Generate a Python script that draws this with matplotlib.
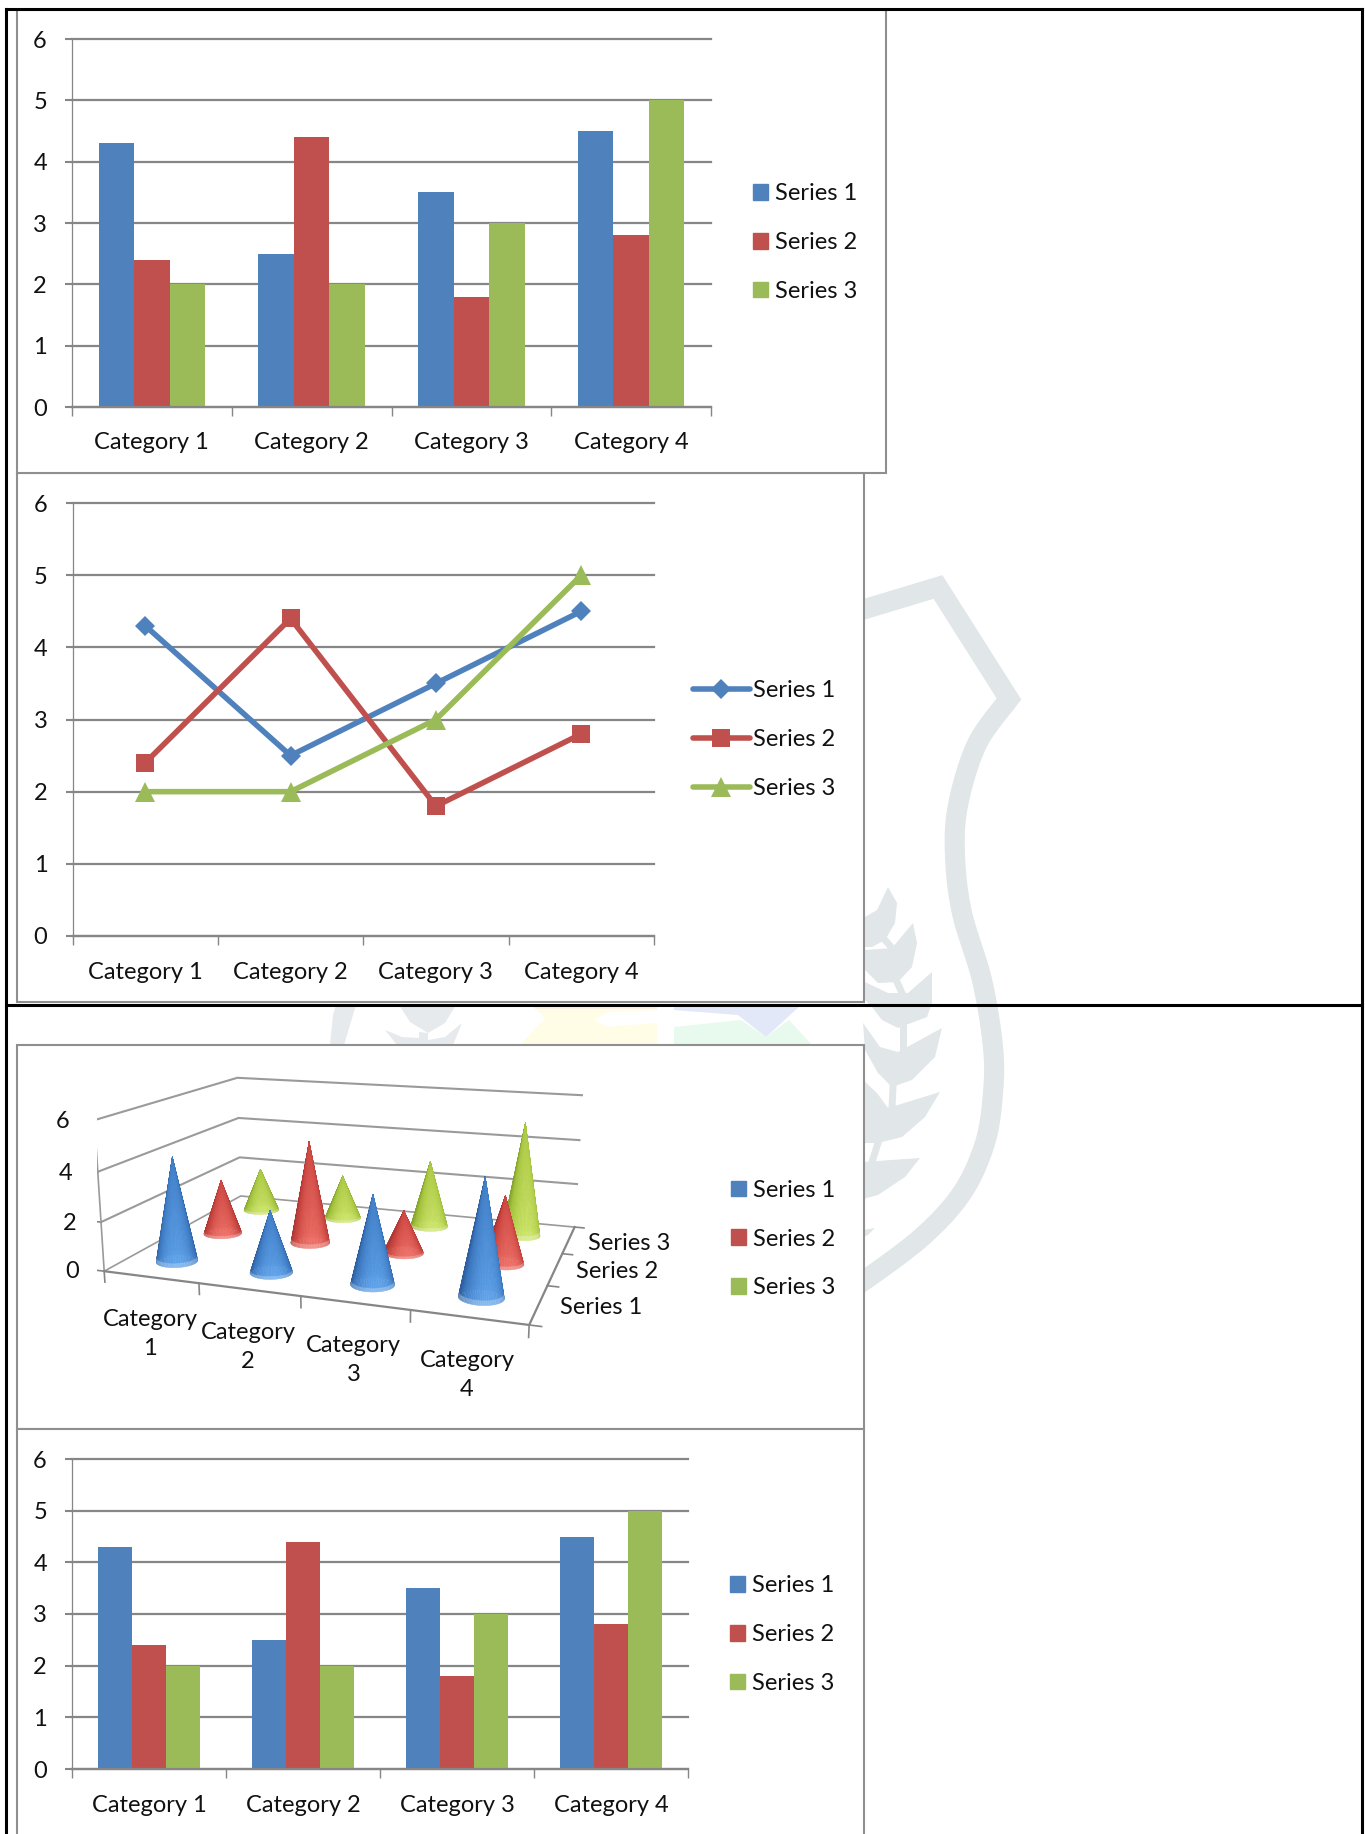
import numpy as np
import matplotlib
matplotlib.use('Agg')
import matplotlib.pyplot as plt
from matplotlib.patches import Rectangle, Patch, Polygon

plt.rcParams['font.family'] = ['Lato', 'DejaVu Sans']

W, H = 1365, 1834
FONT = 17
GRID = '#868686'
TEXT = '#111111'

categories = ['Category 1', 'Category 2', 'Category 3', 'Category 4']
cone_categories = ['Category\n1', 'Category\n2', 'Category\n3', 'Category\n4']
series_names = ['Series 1', 'Series 2', 'Series 3']
series_1 = [4.3, 2.5, 3.5, 4.5]
series_2 = [2.4, 4.4, 1.8, 2.8]
series_3 = [2, 2, 3, 5]
all_series = [series_1, series_2, series_3]
colors = ['#4F81BD', '#C0504D', '#9BBB59']
y_ticks = [0, 1, 2, 3, 4, 5, 6]
cone_ticks = [0, 2, 4, 6]


def px_rect(l, t, r, b):
    return [l / W, 1 - b / H, (r - l) / W, (b - t) / H]


def smooth(points, n=12):
    # Catmull-Rom through the given points
    p = np.array(points, float)
    p = np.vstack([p[0], p, p[-1]])
    out = []
    for i in range(1, len(p) - 2):
        for t in np.linspace(0, 1, n, endpoint=False):
            out.append(0.5 * (2 * p[i] + (p[i + 1] - p[i - 1]) * t
                              + (2 * p[i - 1] - 5 * p[i] + 4 * p[i + 1] - p[i + 2]) * t ** 2
                              + (3 * p[i] - p[i - 1] - 3 * p[i + 1] + p[i + 2]) * t ** 3))
    out.append(p[-2])
    return np.array(out)


fig = plt.figure(figsize=(W / 100, H / 100), dpi=100, facecolor='white')

# page layer: faint crest behind the charts, table rules and chart frames
page = fig.add_axes([0, 0, 1, 1], zorder=0)
page.set_xlim(0, W)
page.set_ylim(H, 0)
page.axis('off')

CREST = '#e1e6e9'
shield = np.vstack([[(850, 613), (865, 609), (938, 587)],
                    smooth([(1009, 699), (977, 744), (958, 805), (955, 856), (962, 913), (982, 980),
                            (993, 1047), (993, 1093), (985, 1143), (962, 1193), (922, 1237),
                            (865, 1280), (845, 1292)])])
page.plot(shield[:, 0], shield[:, 1], color=CREST, lw=14.5, solid_joinstyle='miter', zorder=1)

# leaves, listed from the top of the sprig down
leaves = [
    [(865, 917), (877, 910), (888, 887), (897, 903), (895, 923), (885, 940), (872, 947), (865, 947)],
    [(865, 950), (892, 948), (913, 923), (917, 943), (912, 967), (898, 982), (878, 983), (865, 970)],
    [(865, 982), (888, 993), (908, 993), (932, 972), (932, 1003), (927, 1017), (898, 1028), (882, 1020), (872, 1007), (865, 1000)],
    [(863, 1023), (880, 1047), (898, 1052), (942, 1028), (935, 1057), (912, 1080), (892, 1087), (878, 1073), (865, 1050)],
    [(863, 1080), (877, 1093), (888, 1108), (940, 1092), (925, 1117), (902, 1137), (878, 1143), (863, 1143)],
    [(863, 1162), (920, 1158), (905, 1177), (878, 1195), (863, 1199)],
    [(863, 1230), (875, 1228), (868, 1235), (863, 1237)],
]
for leaf in leaves:
    page.add_patch(Polygon(leaf, closed=True, color=CREST, lw=0, zorder=1))
for stem in [[(885, 940), (892, 948)], [(897, 982), (902, 993)], [(903, 1028), (903, 1052)],
             [(893, 1087), (892, 1108)], [(878, 1143), (872, 1162)]]:
    page.plot(*zip(*stem), color=CREST, lw=5, zorder=1)

strip = [
    ('#e6eaec', [(356, 1005), (350, 1025), (344, 1045), (330, 1045), (333, 1015), (336, 1005)]),
    ('#e6eaec', [(399, 1005), (410, 1022), (428, 1033), (445, 1023), (456, 1005)]),
    ('#e6eaec', [(385, 1030), (402, 1037), (419, 1038), (419, 1032), (428, 1033), (428, 1040), (445, 1037),
                 (462, 1023), (453, 1045), (397, 1045)]),
    ('#fffde6', [(531, 1005), (657, 1005), (657, 1010), (608, 1012), (594, 1020), (608, 1027), (657, 1023),
                 (657, 1045), (520, 1045), (545, 1018)]),
    ('#fdf1e6', [(531, 1005), (657, 1005), (657, 1009), (536, 1009)]),
    ('#e8f9ee', [(674, 1045), (674, 1027), (741, 1020), (766, 1037), (789, 1020), (812, 1045)]),
    ('#e3e8f8', [(674, 1005), (801, 1005), (766, 1037), (738, 1015), (674, 1010)]),
]
for shade, outline in strip:
    page.add_patch(Polygon(outline, closed=True, color=shade, lw=0, zorder=1))

for l, t, r, b in [(17, 473, 864, 1002), (17, 10, 886, 473), (17, 1045, 864, 1429), (17, 1429, 864, 1845)]:
    page.add_patch(Rectangle((l, t), r - l, b - t, facecolor='white', edgecolor='#8f8f8f', lw=1.5, zorder=2))

for xs, ys in [((6, 1362), (9, 9)), ((6, 6), (9, H)), ((1362, 1362), (9, H)), ((6, 1362), (1004.5, 1004.5))]:
    page.plot(xs, ys, color='black', lw=2.2, solid_capstyle='projecting', zorder=3)


def style_axes(ax, pad):
    ax.set_xlim(0, 4)
    ax.set_ylim(0, 6)
    ax.patch.set_alpha(0)
    for side in ['top', 'right']:
        ax.spines[side].set_visible(False)
    ax.spines['left'].set_color(GRID)
    ax.spines['left'].set_linewidth(0.9)
    ax.spines['bottom'].set_color(GRID)
    ax.spines['bottom'].set_linewidth(1.6)
    ax.spines['bottom'].set_zorder(2.5)
    ax.set_yticks(y_ticks)
    ax.set_xticks(range(5))
    ax.set_xticklabels([])
    ax.set_xticks([0.5, 1.5, 2.5, 3.5], minor=True)
    ax.set_xticklabels(categories, minor=True)
    ax.tick_params(axis='y', length=5, width=1.5, color=GRID, pad=13, labelsize=FONT, labelcolor=TEXT)
    ax.tick_params(axis='x', which='major', length=6.3, width=1, color=GRID)
    ax.tick_params(axis='x', which='minor', length=0, pad=pad, labelsize=FONT, labelcolor=TEXT)
    ax.set_axisbelow(True)
    ax.grid(axis='y', color=GRID, lw=1.6)
    for line in ax.get_ygridlines():
        line.set_clip_on(False)


def add_legend(ax, handles, x, y, **kw):
    opts = dict(handlelength=0.64, handleheight=0.64, handletextpad=0.28, labelspacing=1.17)
    opts.update(kw)
    ax.legend(handles, series_names, loc='center left', bbox_to_anchor=(x / W, 1 - y / H),
              bbox_transform=fig.transFigure, frameon=False, fontsize=FONT, borderpad=0,
              borderaxespad=0, labelcolor=TEXT, **opts)


def draw_bars(rect, legend_x, legend_y, pad):
    ax = fig.add_axes(px_rect(*rect), zorder=2)
    width = 1 / 4.5
    centers = np.arange(len(categories)) + 0.5
    for j, values in enumerate(all_series):
        ax.bar(centers + (j - 1) * width, values, width=width, color=colors[j], zorder=2)
    style_axes(ax, pad)
    add_legend(ax, [Patch(color=c) for c in colors], legend_x, legend_y)


# clustered bars, top of the page
draw_bars((72, 39, 711, 407), 753, 242.5, 18)

# lines with markers
ax_line = fig.add_axes(px_rect(72.5, 503, 654, 936), zorder=2)
centers = np.arange(len(categories)) + 0.5
line_handles = []
for values, color, marker, size in zip(all_series, colors, ['D', 's', '^'], [10, 13, 14]):
    h, = ax_line.plot(centers, values, color=color, lw=4, marker=marker, ms=size, mew=0,
                      solid_capstyle='round', clip_on=False, zorder=3)
    line_handles.append(h)
style_axes(ax_line, 18.4)
add_legend(ax_line, line_handles, 693, 739.5, handlelength=2.4, handleheight=0.64, handletextpad=0.13)

# cones in 3D; the view below puts the floor and walls where the frame leaves room
ax3 = fig.add_axes([0, 0, 0.2, 0.2], projection='3d', zorder=2, computed_zorder=False)
ax3.set_xlim(0, 4)
ax3.set_ylim(0, 3)
ax3.set_zlim(0, 6)
ELEV, AZIM = 13.78, -70.73
ax3.view_init(elev=ELEV, azim=AZIM)
ax3.set_proj_type('persp', focal_length=0.36)
ax3.set_box_aspect((1, 0.734, 0.361))
ax3.set_axis_off()
ax3.patch.set_alpha(0)
SCALE, OFF_X, OFF_Y = 2722.2, 356.1, 1178.4
vx, vy = ax3.viewLim.intervalx, ax3.viewLim.intervaly
ax3.set_position(px_rect(OFF_X + SCALE * vx[0], OFF_Y - SCALE * vy[1], OFF_X + SCALE * vx[1], OFF_Y - SCALE * vy[0]))

for z in cone_ticks:
    lw = 1.5 if z else 1.2
    ax3.plot([0, 0, 4], [0, 3, 3], [z, z, z], color='#9a9a9a', lw=lw, zorder=1)
    ax3.plot([-0.09, 0], [0, 0], [z, z], color=GRID, lw=1.2, zorder=1)
ax3.plot([0, 0], [0, 0], [0, 6], color='#9a9a9a', lw=1.2, zorder=1)
ax3.plot([0, 4, 4], [0, 0, 3], [0, 0, 0], color=GRID, lw=1.6, zorder=1)
for i in range(5):
    ax3.plot([i, i], [0, 0], [0, -0.45], color=GRID, lw=1.2, zorder=1)
for k in range(4):
    ax3.plot([4, 4.1], [k, k], [0, 0], color=GRID, lw=1.2, zorder=1)

# each cone goes from edge shade through body shade to a highlight facing the viewer
cone_shades = [('#2d5f9f', '#3f7cc4', '#5ea2ea'), ('#a63634', '#c9443f', '#ee6f66'), ('#86a52c', '#a8c640', '#cde56a')]
RADIUS = 0.2
theta = np.linspace(0, 2 * np.pi, 73)
rise = np.linspace(0, 1, 25)
TH, RI = np.meshgrid(theta, rise)
facing = np.clip(np.cos(TH[:-1, :-1] - np.radians(AZIM) - np.radians(8)), 0, 1)[..., None]
low = 1 - RI[:-1, :-1, None]
for j in [2, 1, 0]:
    dark, mid, light = [np.array(matplotlib.colors.to_rgb(c)) for c in cone_shades[j]]
    face = dark + (mid - dark) * np.clip(facing * 2.2, 0, 1) + (light - mid) * np.clip(facing * 2 - 1, 0, 1) * low ** 0.8
    # faint pale rim where the base meets the floor
    rim = RI[:-1, :-1, None] < 0.02
    face = np.where(rim, face * 0.75 + 0.25, face)
    for i, value in enumerate(all_series[j]):
        X = i + 0.5 + RADIUS * (1 - RI) * np.cos(TH)
        Y = j + 0.5 + RADIUS * (1 - RI) * np.sin(TH)
        Z = value * RI
        ax3.plot_surface(X, Y, Z, facecolors=face, shade=False, rstride=1, cstride=1,
                         linewidth=0.3, antialiased=True, zorder=10 - j + 0.1 * i)

for tick, (tx, ty) in zip(cone_ticks, [(72.5, 1272), (70, 1223), (66, 1173), (63, 1121)]):
    fig.text(tx / W, 1 - ty / H, str(tick), ha='center', va='center', fontsize=FONT, color=TEXT, zorder=5)
for label, (tx, ty) in zip(cone_categories, [(150, 1334), (248, 1347), (353.5, 1360), (467, 1375)]):
    fig.text(tx / W, 1 - ty / H, label, ha='center', va='center', fontsize=FONT, color=TEXT,
             linespacing=1.5, zorder=5)
for name, (tx, ty) in zip(series_names, [(560, 1308), (576, 1272), (587.5, 1244)]):
    fig.text(tx / W, 1 - ty / H, name, ha='left', va='center', fontsize=FONT, color=TEXT, zorder=5)
add_legend(ax3, [Patch(color=c) for c in colors], 731, 1239)

# same bars again, shorter, bottom of the page
draw_bars((72, 1459, 688, 1769), 730, 1634.5, 18.4)

fig.savefig('out.png', dpi=100)
